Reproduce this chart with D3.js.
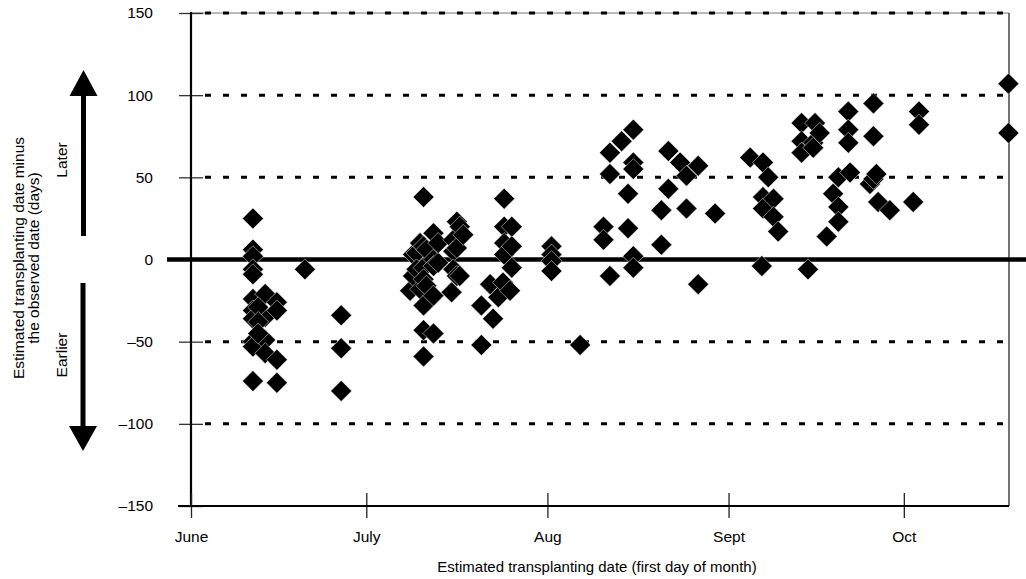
<!DOCTYPE html>
<html><head><meta charset="utf-8">
<script src="https://cdn.jsdelivr.net/npm/d3@7/dist/d3.min.js"></script>
<style>
html,body{margin:0;padding:0;background:#fff;}
svg{display:block;font-family:"Liberation Sans",Arial,sans-serif;}
</style></head>
<body><svg id="c" width="1026" height="579"></svg>
<script>
// Days after June 1 (x) and difference in days (y)
const pointDays = [
 10.6,10.6,10.6,10.6,10.6,10.6,10.6,10.6,10.6,10.6,10.6,
 12.7,12.7,12.7,12.7,
 14.7,14.7,14.7,14.7,
 11.5,11.5,11.5,
 19.5,
 25.7,25.7,25.7,
 37.5,38.0,38.0,38.6,38.6,39.2,39.2,
 39.8,39.8,39.8,39.8,39.8,39.8,39.8,
 40.3,40.3,
 41.5,41.5,41.5,41.5,41.5,
 42.3,42.3,
 44.6,44.9,44.9,44.9,
 45.5,45.5,45.5,46.0,46.0,46.6,
 49.7,49.7,51.2,51.7,52.6,53.4,
 53.6,53.6,53.6,53.6,54.6,54.9,54.9,54.9,
 61.7,61.7,61.7,61.7,
 66.6,
 70.6,70.6,
 71.7,71.7,71.7,
 73.7,74.8,74.8,
 75.7,75.7,75.7,75.7,75.7,
 80.5,80.5,81.7,81.7,83.7,84.8,84.8,86.8,86.8,89.7,
 95.7,97.7,97.9,97.9,97.9,98.8,99.7,99.7,100.5,
 104.5,104.5,104.5,105.6,106.5,106.5,106.8,107.6,108.8,109.9,
 110.8,110.8,110.8,
 112.5,112.5,112.5,112.8,
 116.2,116.8,116.8,116.8,117.3,117.6,119.6,
 123.6,124.6,124.6,
 139.9,139.9
];
const pointDiffs = [
 25,6,2,-6,-9,-24,-31,-36,-50,-53,-74,
 -21,-35,-49,-57,
 -26,-31,-61,-75,
 -29,-38,-45,
 -6,
 -34,-54,-80,
 -19,3,-10,4,-6,10,-18,
 38,8,-5,-12,-28,-43,-59,
 -16,6,
 16,0,-4,-45,-22,
 -2,10,
 -20,12,5,-6,
 23,-10,7,-10,20,15,
 -28,-52,-15,-36,-23,-14,
 37,20,10,3,-19,20,8,-5,
 8,3,-1,-7,
 -52,
 20,12,
 65,52,-10,
 72,40,19,
 79,59,55,2,-5,
 30,9,66,43,59,51,31,57,-15,28,
 62,-4,59,38,31,50,37,26,17,
 83,72,65,-6,71,68,83,77,14,40,
 50,32,23,
 90,79,71,53,
 46,95,75,49,52,35,30,
 35,90,82,
 107,77
];
const xTickDays = [0, 30, 61, 92, 122];
const xTickLabels = ["June", "July", "Aug", "Sept", "Oct"];
const yTicks = [150, 100, 50, 0, -50, -100, -150];
const yTickLabels = ["150", "100", "50", "0", "\u201350", "\u2013100", "\u2013150"];
const gridValues = [150, 100, 50, -50, -100];

const svg = d3.select("#c");
const L = 191, R = 1009, T = 13, B = 506;
const FS = 15.5;
const x = d3.scaleLinear().domain([0, 140]).range([L, R]);
const y = d3.scaleLinear().domain([-150, 150]).range([B, T]);

// frame
svg.append("line").attr("x1", L).attr("x2", R).attr("y1", T).attr("y2", T)
  .attr("stroke", "#777").attr("stroke-width", 1);
svg.append("line").attr("x1", R).attr("x2", R).attr("y1", T).attr("y2", B)
  .attr("stroke", "#444").attr("stroke-width", 1.5);

// grid
svg.append("g").selectAll("line").data(gridValues).join("line")
  .attr("x1", 205).attr("x2", 1004)
  .attr("y1", d => y(d)).attr("y2", d => y(d))
  .attr("stroke", "#000").attr("stroke-width", 3)
  .attr("stroke-dasharray", "6,12");

// y axis
const yAxis = d3.axisLeft(y).tickValues(yTicks)
  .tickFormat((d, i) => yTickLabels[i]).tickSizeInner(0).tickSizeOuter(0).tickPadding(38);
const gy = svg.append("g").attr("transform", `translate(${L},0)`).call(yAxis);
gy.select(".domain").remove();
gy.selectAll("text").attr("font-size", FS).attr("fill", "#000")
  .attr("font-family", "Liberation Sans, Arial, sans-serif");
gy.selectAll(".tick").append("line").attr("x1", -12).attr("x2", 12)
  .attr("stroke", "#333").attr("stroke-width", 1.3);
svg.append("line").attr("x1", L).attr("x2", L).attr("y1", T - 1).attr("y2", B + 1)
  .attr("stroke", "#000").attr("stroke-width", 2.2);

// x axis
const xAxis = d3.axisBottom(x).tickValues(xTickDays)
  .tickFormat((d, i) => xTickLabels[i]).tickSizeInner(0).tickSizeOuter(0).tickPadding(25);
const gx = svg.append("g").attr("transform", `translate(0,${B})`).call(xAxis);
gx.select(".domain").remove();
gx.selectAll("text").attr("font-size", FS).attr("fill", "#000")
  .attr("font-family", "Liberation Sans, Arial, sans-serif");
gx.selectAll(".tick").append("line").attr("y1", -13).attr("y2", 12)
  .attr("stroke", "#222").attr("stroke-width", 1.3);
svg.append("line").attr("x1", 178).attr("x2", R).attr("y1", B).attr("y2", B)
  .attr("stroke", "#000").attr("stroke-width", 2.2);

// zero line
svg.append("line").attr("x1", 167).attr("x2", 1026).attr("y1", y(0)).attr("y2", y(0))
  .attr("stroke", "#000").attr("stroke-width", 4.5);

// points (diamonds)
const h = 10.5;
const diamond = `M0,${-h}L${h},0L0,${h}L${-h},0Z`;
svg.append("g").selectAll("path").data(pointDays.map((d, i) => [d, pointDiffs[i]])).join("path")
  .attr("d", diamond)
  .attr("transform", d => `translate(${x(d[0])},${y(d[1])})`)
  .attr("fill", "#000").attr("stroke", "#fff").attr("stroke-width", 0.5);

// axis titles
svg.append("text").attr("x", 597).attr("y", 572).attr("text-anchor", "middle")
  .attr("font-size", 15).text("Estimated transplanting date (first day of month)");
const yt = svg.append("text").attr("transform", "translate(0,258) rotate(-90)")
  .attr("text-anchor", "middle").attr("font-size", FS);
yt.append("tspan").attr("x", 0).attr("y", 24).text("Estimated transplanting date minus");
yt.append("tspan").attr("x", 0).attr("y", 39).text("the observed date (days)");

svg.append("text").attr("transform", "translate(67,160) rotate(-90)")
  .attr("text-anchor", "middle").attr("font-size", FS).text("Later");
svg.append("text").attr("transform", "translate(67,355) rotate(-90)")
  .attr("text-anchor", "middle").attr("font-size", FS).text("Earlier");

// arrows
const ax = 83.5;
svg.append("line").attr("x1", ax).attr("x2", ax).attr("y1", 236).attr("y2", 94)
  .attr("stroke", "#000").attr("stroke-width", 5);
svg.append("path").attr("d", `M${ax},70L${ax + 14},96L${ax - 14},96Z`).attr("fill", "#000");
svg.append("line").attr("x1", ax - 0.5).attr("x2", ax - 0.5).attr("y1", 283).attr("y2", 428)
  .attr("stroke", "#000").attr("stroke-width", 5);
svg.append("path").attr("d", `M${ax - 0.5},451L${ax + 13.5},426L${ax - 14.5},426Z`).attr("fill", "#000");
</script></body></html>
